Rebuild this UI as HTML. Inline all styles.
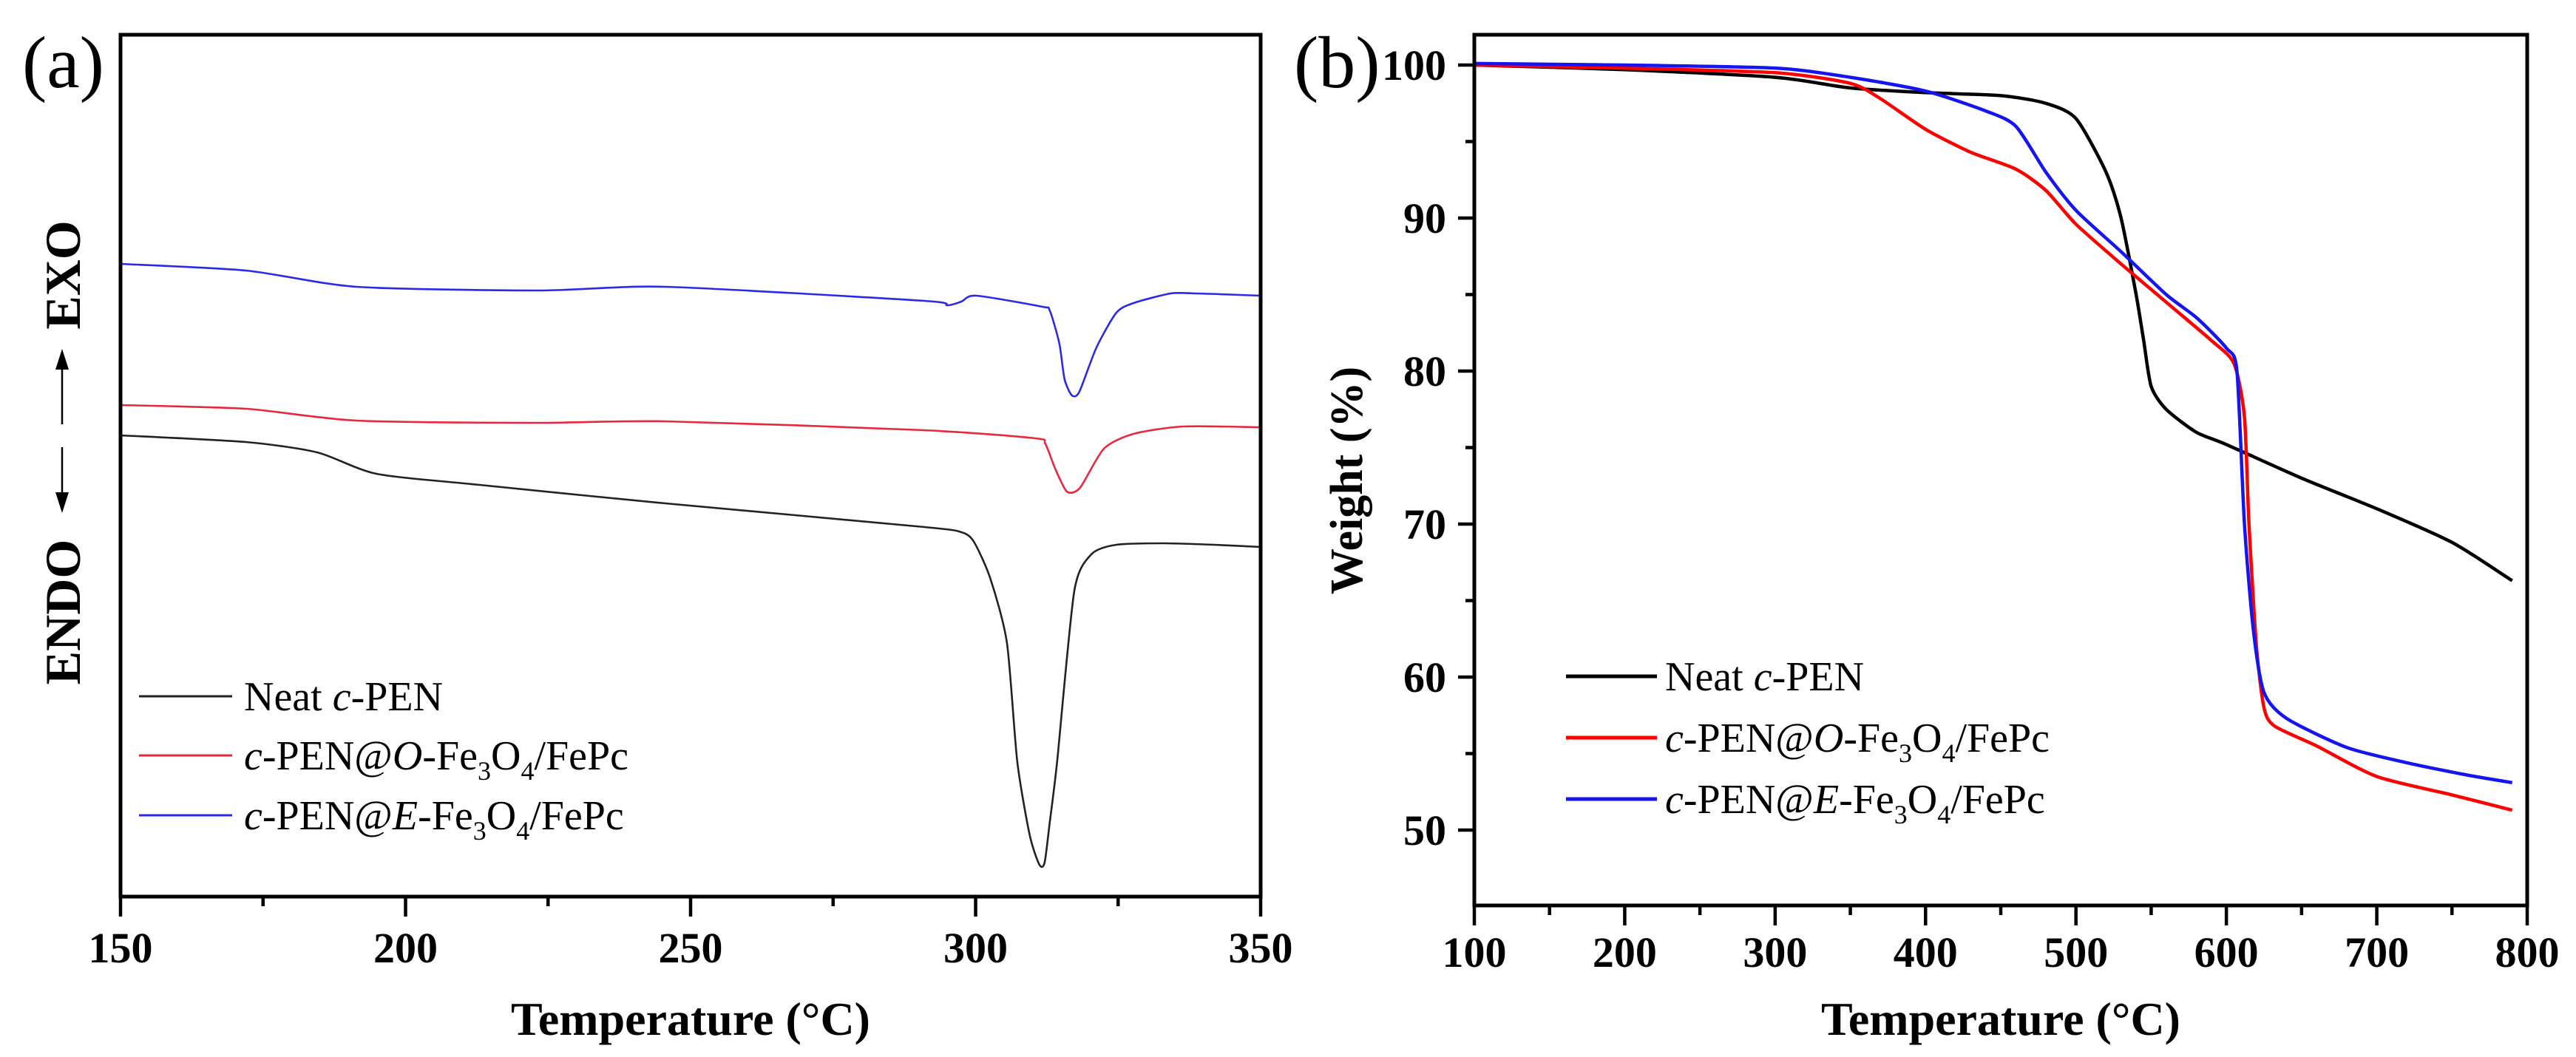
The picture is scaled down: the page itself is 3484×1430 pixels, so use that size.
<!DOCTYPE html>
<html><head><meta charset="utf-8"><style>
html,body{margin:0;padding:0;background:#fff;}
svg{display:block;font-family:"Liberation Serif",serif;}
</style></head><body>
<svg id="fig" width="3484" height="1430" viewBox="0 0 3484 1430" xmlns="http://www.w3.org/2000/svg">
<g id="pa"></g>
<g id="pb"></g>
</svg>
<script>
// ---- Panel (a) DSC data: temperature (°C) and heat flow (arbitrary units) ----
const dscBlackT = [150,172,184.5,194.9,213,245.6,291,297.5,299.7,302.6,305.5,307.3,309.5,311.2,312.1,313,314.3,317.3,320.3,324.7,333,341.8,350];
const dscBlackV = [62.4,61.5,60.1,57.2,55.7,53.2,50.0,49.3,48.0,43.0,34.3,18.3,8.3,4.3,4.6,10.0,18.3,41.3,46.3,47.6,47.8,47.6,47.3];
const dscRedT = [150,172,191.4,223.4,245.6,291,310.5,312.2,313.9,316,318.3,322.5,327.7,336.4,350];
const dscRedV = [66.5,66.0,64.4,64.1,64.3,63.1,62.0,61.3,58.0,54.8,55.3,60.6,62.6,63.6,63.5];
const dscBlueT = [150,172,191.4,223.4,245.6,291,295,297.5,300.1,311.7,313,314.7,315.6,316.9,318.2,321.2,324.7,327.7,334.2,338.6,342.9,350];
const dscBlueV = [85.6,84.7,82.5,82.0,82.5,80.6,80.0,80.5,81.3,79.8,79.3,74.8,70.0,67.8,68.3,74.3,79.0,80.3,81.6,81.6,81.5,81.3];
const dscXTicks = [150,200,250,300,350];
const dscXLabels = ["150","200","250","300","350"];
// ---- Panel (b) TGA data ----
const tgaBlackT = [100,200,300,350,400,450,480,500,520,530,540,545,550,560,580,600,650,700,750,790];
const tgaBlackW = [100,99.7,99.2,98.5,98.2,98.0,97.5,96.5,93,90,85,82,79,77.5,76,75.2,73,71,68.8,66.3];
const tgaRedT = [100,200,300,350,370,400,430,460,480,500,530,560,590,605,612,615,620,625,632,660,700,750,790];
const tgaRedW = [100,99.8,99.5,98.8,97.8,95.8,94.3,93.2,91.8,89.6,87.0,84.5,82,80.5,77,70,62,58,56.8,55.5,53.5,52.3,51.3];
const tgaBlueT = [100,200,300,350,400,440,460,480,500,530,560,580,600,607,612,618,625,640,680,720,760,790];
const tgaBlueW = [100.1,100,99.8,99.2,98.3,97,96,93,90.5,87.8,85,83.5,81.5,80,70,63,59,57.3,55.4,54.4,53.6,53.1];
const tgaXTicks = [100,200,300,400,500,600,700,800];
const tgaXLabels = ["100","200","300","400","500","600","700","800"];
const tgaYTicks = [50,60,70,80,90,100];
const tgaYLabels = ["50","60","70","80","90","100"];

const NS="http://www.w3.org/2000/svg";
function mk(parent,tag,attrs,text){const e=document.createElementNS(NS,tag);for(const k in attrs)e.setAttribute(k,attrs[k]);if(text!==undefined)e.textContent=text;parent.appendChild(e);return e;}

const ax={l:163,r:1705,t:47,b:1213}; const axT0=150,axT1=350;
const xA=t=>ax.l+(t-axT0)*(ax.r-ax.l)/(axT1-axT0);
const yA=v=>ax.b-v*10;
const bx={l:1994,r:3418,t:47,b:1225};
const xB=t=>bx.l+(t-100)*(bx.r-bx.l)/700;
const yB=w=>88+(100-w)*20.7;

// smooth path (Catmull-Rom -> cubic Bezier, reduced tension)
function pathD(T,V,fx,fy){
 const P=T.map((t,i)=>[fx(t),fy(V[i])]);
 let d='M'+P[0][0].toFixed(1)+' '+P[0][1].toFixed(1);
 const k=0.12;
 for(let i=0;i<P.length-1;i++){
  const p0=P[Math.max(0,i-1)],p1=P[i],p2=P[i+1],p3=P[Math.min(P.length-1,i+2)];
  const c1=[p1[0]+(p2[0]-p0[0])*k,p1[1]+(p2[1]-p0[1])*k];
  const c2=[p2[0]-(p3[0]-p1[0])*k,p2[1]-(p3[1]-p1[1])*k];
  d+=' C'+c1[0].toFixed(1)+' '+c1[1].toFixed(1)+' '+c2[0].toFixed(1)+' '+c2[1].toFixed(1)+' '+p2[0].toFixed(1)+' '+p2[1].toFixed(1);
 }
 return d;}

// ---------- Panel (a) ----------
const pa=document.getElementById('pa');
let e;
e=mk(pa,'path',{d:pathD(dscBlackT,dscBlackV,xA,yA),fill:'none',stroke:'#222','stroke-width':2.6,'stroke-linejoin':'round'});


e=mk(pa,'path',{d:pathD(dscRedT,dscRedV,xA,yA),fill:'none',stroke:'#e8283c','stroke-width':2.6,'stroke-linejoin':'round'});


e=mk(pa,'path',{d:pathD(dscBlueT,dscBlueV,xA,yA),fill:'none',stroke:'#2a2ae8','stroke-width':2.6,'stroke-linejoin':'round'});


e=mk(pa,'rect',{x:ax.l,y:ax.t,width:ax.r-ax.l,height:ax.b-ax.t,fill:'none',stroke:'#000','stroke-width':5});


for(let t=axT0;t<=axT1;t+=25){const major=dscXTicks.includes(t);
 e=mk(pa,'line',{x1:xA(t),x2:xA(t),y1:ax.b,y2:ax.b+(major?27:13),stroke:'#000','stroke-width':4.5});
 
 }
dscXTicks.forEach((t,i)=>{e=mk(pa,'text',{x:xA(t),y:1302,'text-anchor':'middle','font-size':58,'font-weight':'bold'},dscXLabels[i]);
 
 });
e=mk(pa,'text',{x:(ax.l+ax.r)/2,y:1400,'text-anchor':'middle','font-size':64,'font-weight':'bold'},'Temperature (°C)');


e=mk(pa,'text',{x:30,y:118,'font-size':100},'(a)');


// ENDO / EXO label
e=mk(pa,'text',{x:0,y:0,'font-size':68,'font-weight':'bold','text-anchor':'middle',transform:'translate(108,372) rotate(-90)'},'EXO');


e=mk(pa,'text',{x:0,y:0,'font-size':68,'font-weight':'bold','text-anchor':'middle',transform:'translate(108,828) rotate(-90)'},'ENDO');


e=mk(pa,'g',{});


mk(e,'line',{x1:84,x2:84,y1:495,y2:574,stroke:'#000','stroke-width':2.5});
mk(e,'polygon',{points:'84,472 75,500 93,500',fill:'#000'});
mk(e,'line',{x1:84,x2:84,y1:605,y2:672,stroke:'#000','stroke-width':2.5});
mk(e,'polygon',{points:'84,694 75,666 93,666',fill:'#000'});
// legend (a)
const legA=[{y:942,c:'#222'},{y:1022,c:'#e8283c'},{y:1103,c:'#2a2ae8'}];
const legTexts=[
 '<tspan>Neat </tspan><tspan font-style="italic">c</tspan><tspan>-PEN</tspan>',
 '<tspan font-style="italic">c</tspan><tspan>-PEN@</tspan><tspan font-style="italic">O</tspan><tspan>-Fe</tspan><tspan font-size="36" dy="14">3</tspan><tspan dy="-14">O</tspan><tspan font-size="36" dy="14">4</tspan><tspan dy="-14">/FePc</tspan>',
 '<tspan font-style="italic">c</tspan><tspan>-PEN@</tspan><tspan font-style="italic">E</tspan><tspan>-Fe</tspan><tspan font-size="36" dy="14">3</tspan><tspan dy="-14">O</tspan><tspan font-size="36" dy="14">4</tspan><tspan dy="-14">/FePc</tspan>'];
legA.forEach((L,i)=>{const g=mk(pa,'g',{});
 
 
 mk(g,'line',{x1:188,x2:314,y1:L.y,y2:L.y,stroke:L.c,'stroke-width':3});
 const t=mk(g,'text',{x:330,y:L.y+19,'font-size':56});t.innerHTML=legTexts[i];});

// ---------- Panel (b) ----------
const pb=document.getElementById('pb');
e=mk(pb,'path',{d:pathD(tgaBlackT,tgaBlackW,xB,yB),fill:'none',stroke:'#000','stroke-width':4.5,'stroke-linejoin':'round'});


e=mk(pb,'path',{d:pathD(tgaRedT,tgaRedW,xB,yB),fill:'none',stroke:'#f00','stroke-width':4.5,'stroke-linejoin':'round'});


e=mk(pb,'path',{d:pathD(tgaBlueT,tgaBlueW,xB,yB),fill:'none',stroke:'#1515f0','stroke-width':4.5,'stroke-linejoin':'round'});


e=mk(pb,'rect',{x:bx.l,y:bx.t,width:bx.r-bx.l,height:bx.b-bx.t,fill:'none',stroke:'#000','stroke-width':5});


for(let t=100;t<=800;t+=50){const major=tgaXTicks.includes(t);
 e=mk(pb,'line',{x1:xB(t),x2:xB(t),y1:bx.b,y2:bx.b+(major?27:13),stroke:'#000','stroke-width':4.5});
 
 }
for(let w=50;w<=100;w+=5){const major=tgaYTicks.includes(w);
 e=mk(pb,'line',{x1:bx.l-(major?22:12),x2:bx.l,y1:yB(w),y2:yB(w),stroke:'#000','stroke-width':4.5});
 
 }
tgaXTicks.forEach((t,i)=>{e=mk(pb,'text',{x:xB(t),y:1308,'text-anchor':'middle','font-size':58,'font-weight':'bold'},tgaXLabels[i]);
 
 });
tgaYTicks.forEach((w,i)=>{e=mk(pb,'text',{x:1956,y:yB(w)+20,'text-anchor':'end','font-size':58,'font-weight':'bold'},tgaYLabels[i]);
 
 });
e=mk(pb,'text',{x:(bx.l+bx.r)/2,y:1400,'text-anchor':'middle','font-size':64,'font-weight':'bold'},'Temperature (°C)');


e=mk(pb,'text',{x:0,y:0,'text-anchor':'middle','font-size':62,'font-weight':'bold',transform:'translate(1842,650) rotate(-90)'},'Weight (%)');


e=mk(pb,'text',{x:1750,y:118,'font-size':100},'(b)');


const legB=[{y:915,c:'#000'},{y:998,c:'#f00'},{y:1081,c:'#1515f0'}];
legB.forEach((L,i)=>{const g=mk(pb,'g',{});
 
 
 mk(g,'line',{x1:2118,x2:2241,y1:L.y,y2:L.y,stroke:L.c,'stroke-width':5});
 const t=mk(g,'text',{x:2252,y:L.y+19,'font-size':56});t.innerHTML=legTexts[i];});
</script>
</body></html>
